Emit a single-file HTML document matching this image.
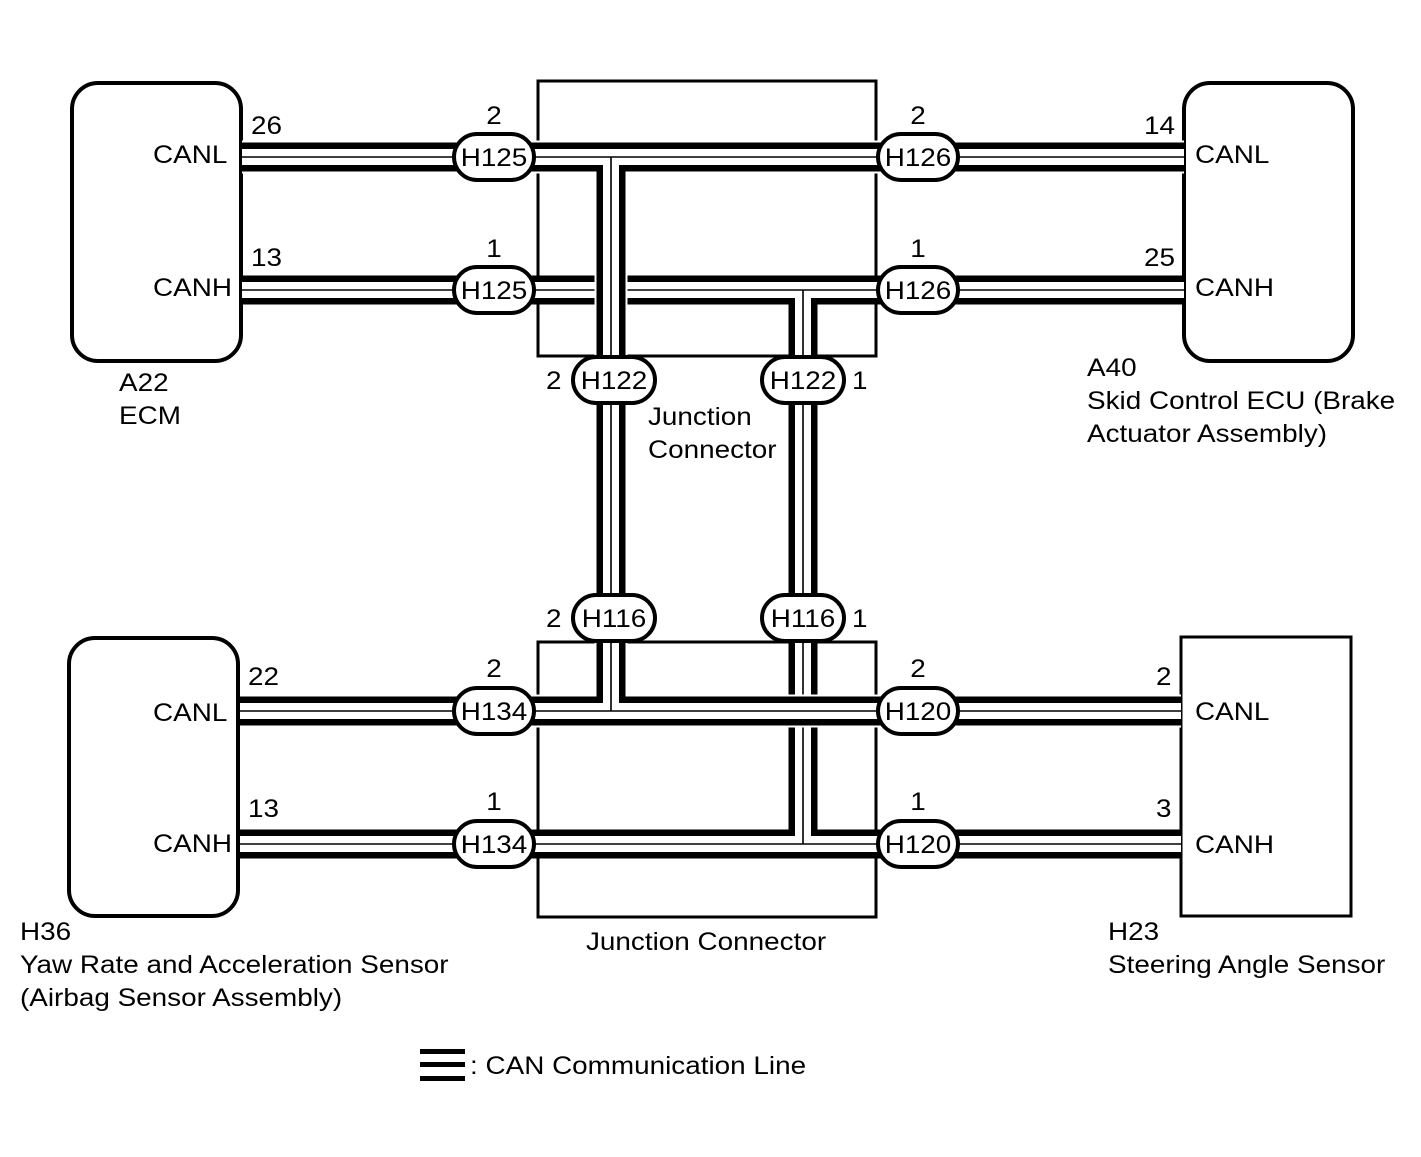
<!DOCTYPE html>
<html><head><meta charset="utf-8"><style>
html,body{margin:0;padding:0;background:#fff;}
svg{display:block;}
text{font-family:"Liberation Sans",Arial,sans-serif;font-size:25px;fill:#000;}
</style></head><body>
<svg width="1421" height="1157" viewBox="0 0 1421 1157" xmlns="http://www.w3.org/2000/svg">
<rect x="72" y="83" width="169" height="278" rx="26" fill="none" stroke="#000" stroke-width="4"/>
<rect x="1184" y="83" width="169" height="278" rx="26" fill="none" stroke="#000" stroke-width="4"/>
<rect x="538" y="81" width="338" height="275" fill="none" stroke="#000" stroke-width="3"/>
<rect x="538" y="642" width="338" height="275" fill="none" stroke="#000" stroke-width="3"/>
<rect x="69" y="638" width="169" height="278" rx="26" fill="none" stroke="#000" stroke-width="4"/>
<rect x="1181" y="637" width="170" height="279" fill="none" stroke="#000" stroke-width="3"/>

<g fill="none" stroke-linejoin="miter" stroke-linecap="butt">
<path d="M242 290 H1184 M803 290 V844 M240 844 H1181" stroke="#000" stroke-width="29"/>
<path d="M242 290 H1184 M803 290 V844 M240 844 H1181" stroke="#fff" stroke-width="16"/>
<path d="M242 290 H1184 M803 290 V844 M240 844 H1181" stroke="#000" stroke-width="1.6"/>
</g>
<g fill="none" stroke-linejoin="miter" stroke-linecap="butt">
<path d="M242 157 H1184 M611 157 V711 M240 711 H1181" stroke="#fff" stroke-width="33"/>
<path d="M242 157 H1184 M611 157 V711 M240 711 H1181" stroke="#000" stroke-width="29"/>
<path d="M242 157 H1184 M611 157 V711 M240 711 H1181" stroke="#fff" stroke-width="16"/>
<path d="M242 157 H1184 M611 157 V711 M240 711 H1181" stroke="#000" stroke-width="1.6"/>
</g>

<g fill="#fff" stroke="#000" stroke-width="4">
<rect x="454" y="134" width="80" height="46" rx="23"/>
<rect x="454" y="267" width="80" height="46" rx="23"/>
<rect x="878" y="134" width="80" height="46" rx="23"/>
<rect x="878" y="267" width="80" height="46" rx="23"/>
<rect x="573" y="357" width="82" height="46" rx="23"/>
<rect x="762" y="357" width="82" height="46" rx="23"/>
<rect x="573" y="595" width="82" height="46" rx="23"/>
<rect x="762" y="595" width="82" height="46" rx="23"/>
<rect x="454" y="688" width="80" height="46" rx="23"/>
<rect x="454" y="821" width="80" height="46" rx="23"/>
<rect x="878" y="688" width="80" height="46" rx="23"/>
<rect x="878" y="821" width="80" height="46" rx="23"/>
</g>
<g text-anchor="middle">
<text transform="translate(494,166) scale(1.115,1)">H125</text>
<text transform="translate(494,299) scale(1.115,1)">H125</text>
<text transform="translate(918,166) scale(1.115,1)">H126</text>
<text transform="translate(918,299) scale(1.115,1)">H126</text>
<text transform="translate(614,389) scale(1.115,1)">H122</text>
<text transform="translate(803,389) scale(1.115,1)">H122</text>
<text transform="translate(614,627) scale(1.115,1)">H116</text>
<text transform="translate(803,627) scale(1.115,1)">H116</text>
<text transform="translate(494,720) scale(1.115,1)">H134</text>
<text transform="translate(494,853) scale(1.115,1)">H134</text>
<text transform="translate(918,720) scale(1.115,1)">H120</text>
<text transform="translate(918,853) scale(1.115,1)">H120</text>
<text transform="translate(494,124) scale(1.115,1)">2</text>
<text transform="translate(494,257) scale(1.115,1)">1</text>
<text transform="translate(918,124) scale(1.115,1)">2</text>
<text transform="translate(918,257) scale(1.115,1)">1</text>
<text transform="translate(494,677) scale(1.115,1)">2</text>
<text transform="translate(494,810) scale(1.115,1)">1</text>
<text transform="translate(918,677) scale(1.115,1)">2</text>
<text transform="translate(918,810) scale(1.115,1)">1</text>
</g>
<text transform="translate(546,389) scale(1.115,1)">2</text>
<text transform="translate(852,389) scale(1.115,1)">1</text>
<text transform="translate(546,627) scale(1.115,1)">2</text>
<text transform="translate(852,627) scale(1.115,1)">1</text>

<text transform="translate(153,163) scale(1.115,1)">CANL</text>
<text transform="translate(153,296) scale(1.115,1)">CANH</text>
<text transform="translate(251,134) scale(1.115,1)">26</text>
<text transform="translate(251,266) scale(1.115,1)">13</text>
<text transform="translate(1195,163) scale(1.115,1)">CANL</text>
<text transform="translate(1195,296) scale(1.115,1)">CANH</text>
<text transform="translate(1144,134) scale(1.115,1)">14</text>
<text transform="translate(1144,266) scale(1.115,1)">25</text>
<text transform="translate(153,721) scale(1.115,1)">CANL</text>
<text transform="translate(153,852) scale(1.115,1)">CANH</text>
<text transform="translate(248,685) scale(1.115,1)">22</text>
<text transform="translate(248,817) scale(1.115,1)">13</text>
<text transform="translate(1195,720) scale(1.115,1)">CANL</text>
<text transform="translate(1195,853) scale(1.115,1)">CANH</text>
<text transform="translate(1156,685) scale(1.115,1)">2</text>
<text transform="translate(1156,817) scale(1.115,1)">3</text>

<text transform="translate(119,391) scale(1.115,1)">A22</text>
<text transform="translate(119,424) scale(1.115,1)">ECM</text>
<text transform="translate(1087,376) scale(1.115,1)">A40</text>
<text transform="translate(1087,409) scale(1.115,1)">Skid Control ECU (Brake</text>
<text transform="translate(1087,442) scale(1.115,1)">Actuator Assembly)</text>
<text transform="translate(648,425) scale(1.115,1)">Junction</text>
<text transform="translate(648,458) scale(1.115,1)">Connector</text>
<text transform="translate(586,950) scale(1.115,1)">Junction Connector</text>
<text transform="translate(20,940) scale(1.115,1)">H36</text>
<text transform="translate(20,973) scale(1.115,1)">Yaw Rate and Acceleration Sensor</text>
<text transform="translate(20,1006) scale(1.115,1)">(Airbag Sensor Assembly)</text>
<text transform="translate(1108,940) scale(1.115,1)">H23</text>
<text transform="translate(1108,973) scale(1.115,1)">Steering Angle Sensor</text>

<rect x="420" y="1049" width="45" height="5" fill="#000"/>
<rect x="420" y="1062" width="45" height="5" fill="#000"/>
<rect x="420" y="1076" width="45" height="5" fill="#000"/>
<text transform="translate(470,1074) scale(1.115,1)">: CAN Communication Line</text>
</svg>
</body></html>
